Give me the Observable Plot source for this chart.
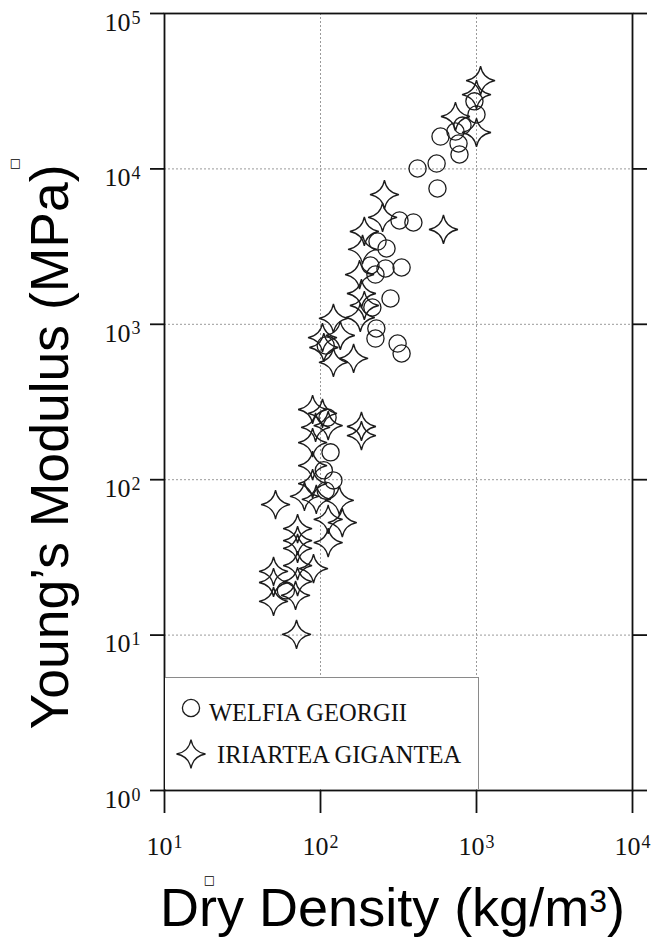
<!DOCTYPE html>
<html>
<head>
<meta charset="utf-8">
<script src="https://cdn.jsdelivr.net/npm/d3@7"></script>
<script src="https://cdn.jsdelivr.net/npm/@observablehq/plot@0.6"></script>
<style>
  body { margin: 0; background: #fff; }
  #wrap { position: relative; width: 656px; height: 943px; }
  #legend { position: absolute; left: 165px; top: 677px; width: 314px; height: 112px;
            box-sizing: border-box; border-top: 1px solid #8a8a8a; border-right: 1px solid #8a8a8a;
            background: #fff; }
</style>
</head>
<body>
<div id="wrap"></div>
<script>
// ---- data ----
const welfiaDensity = [970, 1000, 813, 733, 588, 767, 778, 419, 555, 562,
                       321, 394, 232, 265, 209, 261, 331, 225, 281, 215,
                       228, 225, 312, 331, 108, 111, 116, 105, 121, 108, 60];
const welfiaModulus = [27200, 22400, 19000, 17400, 16150, 14570, 12380, 10060, 10830, 7480,
                       4660, 4520, 3410, 3075, 2390, 2287, 2320, 2090, 1466, 1283,
                       940, 810, 752, 649, 731, 251, 150, 115, 99, 85, 19.4];
const iriarteaDensity = [1062, 1000, 733, 1000, 257, 250, 614, 191, 186, 178,
                         183, 191, 180, 121, 134, 103, 105, 121, 163, 89,
                         103, 112, 93, 183, 183, 89, 89, 89, 78.9, 94,
                         132, 51.5, 112, 138, 71.3, 71.3, 71.3, 112, 71.3, 90.2,
                         50, 50, 71.3, 69.2, 50, 70.2];
const iriarteaModulus = [37000, 30100, 21740, 17150, 6840, 4870, 4075, 3956, 3030, 2090,
                         1578, 1321, 1106, 1090, 847, 822, 709, 568, 603, 283,
                         267, 223, 217, 220, 192, 173, 123, 94.5, 78, 74.6,
                         73.5, 69.2, 55.5, 53, 48.5, 40.6, 36.1, 39.4, 28.0, 26.8,
                         25.7, 21.8, 22.1, 18.0, 16.5, 10.1];
const seriesNames = ["WELFIA GEORGII", "IRIARTEA GIGANTEA"];
const xTicks = [10, 100, 1000, 10000];
const yTicks = [1, 10, 100, 1000, 10000, 100000];
const xGrid = [100, 1000];
const yGrid = [10, 100, 1000, 10000];
const xTitle = "Dry Density (kg/m^3)";
const yTitle = "Young\u2019s Modulus (MPa)";

const welfia = welfiaDensity.map((d, i) => ({density: d, modulus: welfiaModulus[i]}));
const iriartea = iriarteaDensity.map((d, i) => ({density: d, modulus: iriarteaModulus[i]}));

// four-pointed concave star symbol
const star4 = {
  draw(context, size) {
    const R = Math.sqrt(size / Math.PI);
    const k = 0.15 * R;
    context.moveTo(0, -R);
    context.quadraticCurveTo(k, -k, R, 0);
    context.quadraticCurveTo(k, k, 0, R);
    context.quadraticCurveTo(-k, k, -R, 0);
    context.quadraticCurveTo(-k, -k, 0, -R);
    context.closePath();
  }
};

const serif = "'Liberation Serif','Times New Roman',serif";
const sans = "'Liberation Sans',Arial,Helvetica,sans-serif";
const ink = "#1c1c1c";
const powFmt = d => "10^" + Math.round(Math.log10(d));

const chart = Plot.plot({
  width: 656,
  height: 943,
  marginLeft: 164,
  marginRight: 24,
  marginTop: 13,
  marginBottom: 153,
  style: {background: "white", fontFamily: serif, color: "#111"},
  x: {type: "log", domain: [10, 10000]},
  y: {type: "log", domain: [1, 100000]},
  marks: [
    Plot.gridX(xGrid, {stroke: "#9a9a9a", strokeOpacity: 1, strokeDasharray: "2,2"}),
    Plot.gridY(yGrid, {stroke: "#9a9a9a", strokeOpacity: 1, strokeDasharray: "2,2"}),
    Plot.dot(welfia, {x: "density", y: "modulus", r: 8.6, stroke: ink, strokeWidth: 1.3, fill: "none"}),
    Plot.dot(iriartea, {x: "density", y: "modulus", r: 14.5, symbol: star4, stroke: ink, strokeWidth: 1.3, fill: "none"}),
    Plot.frame({stroke: "#111", strokeWidth: 1.8}),
    Plot.axisY(yTicks, {anchor: "left", tickSize: 14, tickPadding: 10, tickFormat: powFmt, fontSize: 26,
                        label: null, stroke: "#111", strokeWidth: 1.8, fill: "#111"}),
    Plot.axisY(yTicks, {anchor: "right", tickSize: 14, tickFormat: () => "", label: null,
                        stroke: "#111", strokeWidth: 1.8}),
    Plot.axisX(xTicks, {anchor: "bottom", tickSize: 23, tickPadding: 23.5, tickFormat: powFmt, fontSize: 26,
                        label: null, stroke: "#111", strokeWidth: 1.8, fill: "#111"}),
    Plot.text([yTitle], {text: d => d, frameAnchor: "left", textAnchor: "middle", rotate: -90, dx: -97, dy: 45,
                         lineAnchor: "bottom", fontSize: 53.5, fontFamily: sans, fill: "#000"}),
    Plot.text([xTitle], {text: d => d, frameAnchor: "bottom", textAnchor: "middle", dx: -6, dy: 135,
                         lineAnchor: "bottom", fontSize: 54, fontFamily: sans, fill: "#000"}),
    Plot.text(["\u25A1"], {text: d => d, frameAnchor: "left", textAnchor: "middle", dx: -149, dy: -238.5, fontSize: 12,
                           fontFamily: "'DejaVu Sans'", fill: "#000"}),
    Plot.text(["\u25A1"], {text: d => d, frameAnchor: "bottom", textAnchor: "middle", dx: -189, dy: 93, fontSize: 12,
                           fontFamily: "'DejaVu Sans'", fill: "#000"})
  ]
});

// superscripts for tick labels and the unit
chart.querySelectorAll("text").forEach(t => {
  const s = t.textContent;
  const m = s.match(/^10\^(\d)$/);
  if (m) {
    t.innerHTML = `10<tspan dx="1" dy="-0.4em" font-size="0.69em">${m[1]}</tspan>`;
    return;
  }
  if (s === xTitle) {
    t.innerHTML = `Dry Density (kg/m<tspan dy="-14" font-size="32">3</tspan><tspan dy="14">)</tspan>`;
  }
});
// the y tick labels sit just below their ticks in the reference
chart.querySelectorAll("g[aria-label='y-axis tick label']").forEach(g => {
  g.setAttribute("transform", ((g.getAttribute("transform") || "") + " translate(0,9)").trim());
});

const wrap = document.getElementById("wrap");
wrap.appendChild(chart);

// legend box
const legend = document.createElement("div");
legend.id = "legend";
wrap.appendChild(legend);
const lsvg = d3.select(legend).append("svg").attr("width", 313).attr("height", 111)
  .style("display", "block");
lsvg.append("path").attr("transform", "translate(26,30)")
  .attr("d", d3.symbol(d3.symbolCircle, 8.6 * 8.6 * Math.PI)())
  .attr("fill", "none").attr("stroke", ink).attr("stroke-width", 1.3);
lsvg.append("path").attr("transform", "translate(26,76)")
  .attr("d", d3.symbol(star4, 14.5 * 14.5 * Math.PI)())
  .attr("fill", "none").attr("stroke", ink).attr("stroke-width", 1.3);
lsvg.append("text").attr("x", 44).attr("y", 43).text(seriesNames[0])
  .attr("font-family", serif).attr("font-size", 24.5).attr("fill", "#111");
lsvg.append("text").attr("x", 52).attr("y", 85).text(seriesNames[1])
  .attr("font-family", serif).attr("font-size", 24.5).attr("fill", "#111");
</script>
</body>
</html>
